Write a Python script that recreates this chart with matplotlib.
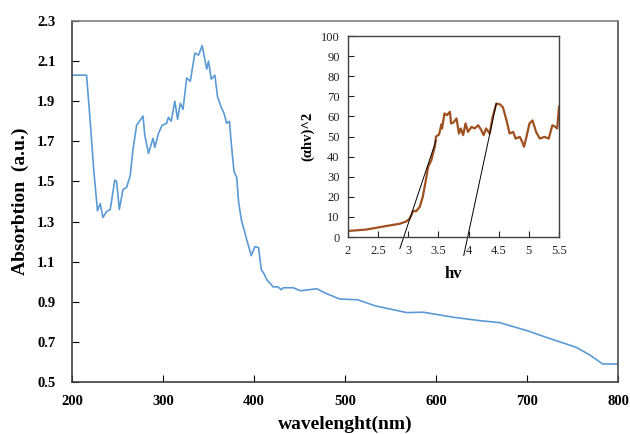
import numpy as np
import matplotlib
matplotlib.use('Agg')
import matplotlib.pyplot as plt

plt.rcParams['font.family'] = ['Liberation Serif', 'DejaVu Serif']

# main absorption spectrum (wavelength nm, absorbance a.u.)
wl = [200, 216, 220, 224, 228, 231, 234, 238, 242, 247, 249, 252, 256, 260,
      264, 267, 271, 278, 280, 284, 289, 291, 295, 299, 304, 306, 309, 313,
      316, 319, 322, 326, 330, 335, 339, 343, 348, 350, 353, 357, 360, 364,
      367, 370, 373, 375, 378, 381, 383, 386, 392, 397, 401, 405, 408, 411,
      414, 418, 421, 426, 430, 432, 443, 451, 469, 478, 494, 514, 533, 568,
      586, 619, 648, 670, 700, 721, 754, 769, 783, 800]
absorb = [2.03, 2.03, 1.80, 1.55, 1.354, 1.39, 1.32, 1.35, 1.36, 1.507, 1.50,
          1.36, 1.46, 1.47, 1.53, 1.66, 1.78, 1.826, 1.73, 1.64, 1.715, 1.67,
          1.74, 1.78, 1.79, 1.82, 1.80, 1.90, 1.81, 1.89, 1.86, 2.016, 2.00,
          2.14, 2.13, 2.177, 2.06, 2.10, 2.01, 2.03, 1.92, 1.87, 1.84, 1.79,
          1.80, 1.69, 1.55, 1.52, 1.40, 1.31, 1.21, 1.13, 1.175, 1.17, 1.06,
          1.04, 1.01, 0.99, 0.974, 0.975, 0.96, 0.97, 0.97, 0.955, 0.965,
          0.944, 0.914, 0.91, 0.88, 0.846, 0.848, 0.823, 0.806, 0.796, 0.756,
          0.723, 0.673, 0.635, 0.59, 0.59]

# Tauc plot (hv eV, (alpha hv)^2)
hv = [2.0, 2.30, 2.64, 2.86, 2.97, 3.02, 3.05, 3.08, 3.13, 3.19, 3.24, 3.29,
      3.33, 3.38, 3.44, 3.46, 3.51, 3.55, 3.56, 3.60, 3.64, 3.69, 3.71, 3.75,
      3.80, 3.84, 3.87, 3.91, 3.95, 3.99, 4.05, 4.10, 4.16, 4.21, 4.25, 4.29,
      4.35, 4.40, 4.46, 4.52, 4.57, 4.63, 4.68, 4.74, 4.78, 4.85, 4.89, 4.92,
      4.96, 5.01, 5.06, 5.12, 5.18, 5.26, 5.33, 5.39, 5.44, 5.47, 5.50]
tauc = [3.0, 3.7, 5.5, 6.6, 7.8, 9.1, 10.8, 13.0, 12.8, 15.0, 20.0, 28.0,
        35.0, 38.0, 45.0, 50.0, 51.0, 56.0, 54.0, 61.5, 60.6, 62.3, 56.5,
        57.0, 59.0, 51.5, 54.0, 50.7, 56.5, 52.3, 54.8, 54.0, 55.6, 53.2,
        50.7, 54.0, 51.5, 59.8, 66.4, 66.0, 64.5, 58.0, 51.5, 52.3, 49.0,
        49.8, 47.3, 44.9, 49.8, 56.5, 58.0, 52.3, 49.0, 49.8, 49.0, 55.6,
        54.8, 54.0, 64.8]

# tangent lines (band gap extrapolation)
fit1_x = [2.86, 3.46]
fit1_y = [-5.8, 48.0]
fit2_x = [3.92, 4.46]
fit2_y = [-9.1, 66.4]

fig = plt.figure(figsize=(6.3, 4.34), dpi=100)
ax = fig.add_axes([0.1143, 0.1198, 0.8667, 0.8318])
ax.plot(wl, absorb, color='#5B9BD5', linewidth=1.2)
ax.set_xlim(200, 800)
ax.set_ylim(0.5, 2.3)
ax.set_xticks(np.arange(200, 801, 100))
ax.set_yticks(np.arange(0.5, 2.31, 0.2))
ax.set_yticklabels(['%.1f' % v for v in np.arange(0.5, 2.31, 0.2)])
ax.tick_params(axis='x', direction='in', length=5, pad=9, labelsize=10.5)
ax.tick_params(axis='y', direction='in', length=5, pad=12, labelsize=10.5)
for lab in ax.get_xticklabels() + ax.get_yticklabels():
    lab.set_fontweight('bold')
ax.set_xlabel('wavelenght(nm)', fontsize=14, fontweight='bold', labelpad=6)
ax.set_ylabel('Absorbtion  (a.u.)', fontsize=14, fontweight='bold', labelpad=6)
for s in ['left', 'bottom']:
    ax.spines[s].set_color('#404040')
ax.spines['top'].set_color('#808080')
ax.spines['right'].set_color('#505050')
for s in ax.spines.values():
    s.set_linewidth(1.2)

ins = fig.add_axes([0.5524, 0.4539, 0.3349, 0.4631])
ins.plot(hv, tauc, color='#A0501E', linewidth=1.6)
ins.plot(fit1_x, fit1_y, color='black', linewidth=0.7, clip_on=False)
ins.plot(fit2_x, fit2_y, color='black', linewidth=0.7, clip_on=False)
ins.set_xlim(2, 5.5)
ins.set_ylim(0, 100)
ins.set_xticks(np.arange(2, 5.51, 0.5))
ins.set_xticklabels(['2', '2.5', '3', '3.5', '4', '4.5', '5', '5.5'])
ins.set_yticks(np.arange(0, 101, 10))
ins.tick_params(direction='in', length=4, labelsize=9, colors='#222222')
ins.tick_params(axis='y', pad=6)
ins.tick_params(axis='x', pad=6)
ins.set_xlabel('hv', fontsize=12, fontweight='bold', labelpad=6)
ins.set_ylabel('(αhv)^2', fontsize=10.5, fontweight='bold', labelpad=5)
for s in ins.spines.values():
    s.set_color('#404040')
    s.set_linewidth(1.0)

fig.savefig('out.png', dpi=100)
